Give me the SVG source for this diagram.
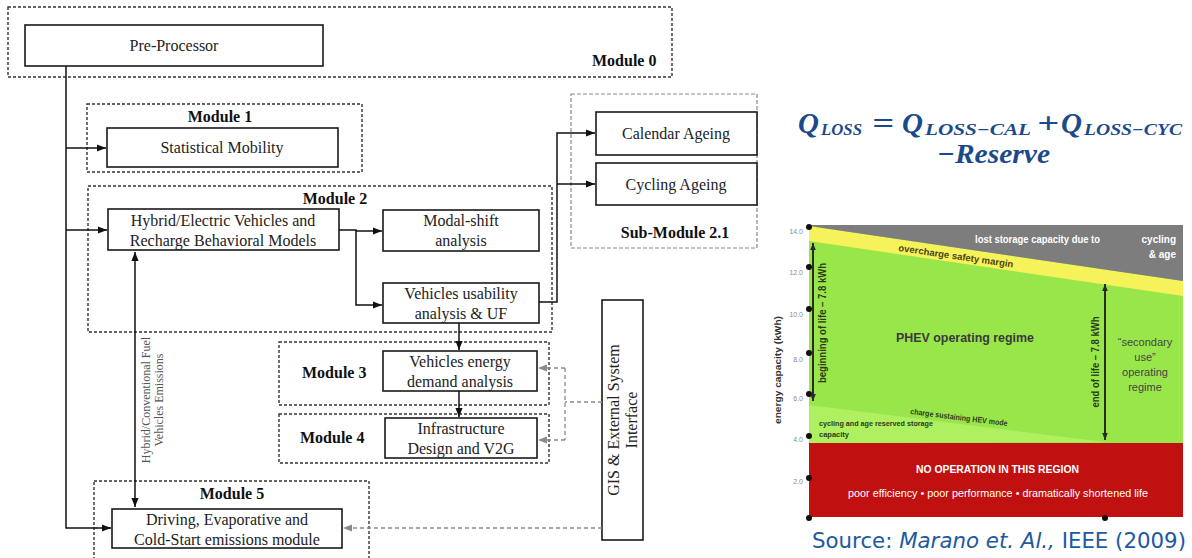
<svg xmlns="http://www.w3.org/2000/svg" width="1192" height="558" viewBox="0 0 1192 558">
<style>
.box{fill:#fff;stroke:#1a1a1a;stroke-width:1.6}
.mod{fill:none;stroke:#333;stroke-width:1.4;stroke-dasharray:3 2}
.sub{fill:none;stroke:#8a8a8a;stroke-width:1.2;stroke-dasharray:4 2}
.t{font-family:"Liberation Serif","Times New Roman",serif;font-size:16px;fill:#222;text-anchor:middle}
.m{font-family:"Liberation Serif","Times New Roman",serif;font-size:16px;font-weight:bold;fill:#111}
.c{fill:none;stroke:#111;stroke-width:1.5}
.g{fill:none;stroke:#8a8a8a;stroke-width:1.3;stroke-dasharray:4 3}
.cs{font-family:"Liberation Sans",Arial,sans-serif}
.ax{font-family:"Liberation Sans",Arial,sans-serif;font-size:7px;fill:#8a8a8a;text-anchor:end}
.f{font-family:"Liberation Serif","Times New Roman",serif;font-weight:bold;font-style:italic;fill:#1b4a8a}
</style>
<defs>
<marker id="ah" viewBox="0 0 10 10" refX="10" refY="5" markerWidth="9" markerHeight="9" markerUnits="userSpaceOnUse" orient="auto-start-reverse"><path d="M0,1 L10,5 L0,9 z" fill="#111"/></marker>
<marker id="ag" viewBox="0 0 10 10" refX="10" refY="5" markerWidth="9" markerHeight="9" markerUnits="userSpaceOnUse" orient="auto-start-reverse"><path d="M0,1 L10,5 L0,9 z" fill="#8a8a8a"/></marker>
<marker id="ac" viewBox="0 0 10 10" refX="10" refY="5" markerWidth="7" markerHeight="7" markerUnits="userSpaceOnUse" orient="auto-start-reverse"><path d="M0,1 L10,5 L0,9 z" fill="#2a2a2a"/></marker>
</defs>
<rect width="1192" height="558" fill="#fff"/>

<!-- module containers -->
<g id="module0">
<rect class="mod" x="8" y="7" width="664" height="70"/>
<text class="m" x="592" y="66">Module 0</text>
</g>
<g id="module1">
<rect class="mod" x="87" y="104" width="275" height="68"/>
<text class="m" x="220" y="122" text-anchor="middle">Module 1</text>
</g>
<g id="module2">
<rect class="mod" x="88" y="186" width="464" height="146"/>
<text class="m" x="335" y="204" text-anchor="middle">Module 2</text>
</g>
<g id="submodule21">
<rect class="sub" x="571" y="94" width="186" height="154"/>
<text class="m" x="675" y="238" text-anchor="middle">Sub-Module 2.1</text>
</g>
<g id="module3">
<rect class="mod" x="279" y="342" width="270" height="63"/>
<text class="m" x="302" y="378">Module 3</text>
</g>
<g id="module4">
<rect class="mod" x="279" y="414" width="270" height="49"/>
<text class="m" x="300" y="443">Module 4</text>
</g>
<g id="module5">
<rect class="mod" x="94" y="481" width="275" height="82"/>
<text class="m" x="232" y="499" text-anchor="middle">Module 5</text>
</g>

<!-- nodes -->
<g id="preprocessor"><rect class="box" x="25" y="25" width="298" height="41"/><text class="t" x="174" y="51">Pre-Processor</text></g>
<g id="statistical-mobility"><rect class="box" x="107" y="128" width="231" height="39"/><text class="t" x="222" y="153">Statistical Mobility</text></g>
<g id="hybrid-models"><rect class="box" x="108" y="209" width="231" height="41"/><text class="t" x="223" y="226">Hybrid/Electric Vehicles and</text><text class="t" x="223" y="246">Recharge Behavioral Models</text></g>
<g id="modal-shift"><rect class="box" x="383" y="210" width="156" height="41"/><text class="t" x="461" y="226">Modal-shift</text><text class="t" x="461" y="246">analysis</text></g>
<g id="usability"><rect class="box" x="383" y="283" width="156" height="40"/><text class="t" x="461" y="299">Vehicles usability</text><text class="t" x="461" y="319">analysis &amp; UF</text></g>
<g id="calendar-ageing"><rect class="box" x="596" y="112" width="161" height="43"/><text class="t" x="676" y="139">Calendar Ageing</text></g>
<g id="cycling-ageing"><rect class="box" x="596" y="163" width="161" height="42"/><text class="t" x="676" y="190">Cycling Ageing</text></g>
<g id="energy-demand"><rect class="box" x="383" y="351" width="154" height="40"/><text class="t" x="460" y="367">Vehicles energy</text><text class="t" x="460" y="387">demand analysis</text></g>
<g id="infrastructure"><rect class="box" x="385" y="418" width="152" height="40"/><text class="t" x="461" y="434">Infrastructure</text><text class="t" x="461" y="454">Design and V2G</text></g>
<g id="driving"><rect class="box" x="112" y="509" width="230" height="39"/><text class="t" x="227" y="525">Driving, Evaporative and</text><text class="t" x="227" y="545">Cold-Start emissions module</text></g>
<g id="gis"><rect class="box" x="602" y="300" width="41" height="240"/>
<text class="t" transform="translate(619,420) rotate(-90)">GIS &amp; External System</text>
<text class="t" transform="translate(637,420) rotate(-90)">Interface</text></g>

<!-- connectors -->
<g id="connectors">
<path class="c" d="M66,66 V528 H111" marker-end="url(#ah)"/>
<path class="c" d="M66,148 H106" marker-end="url(#ah)"/>
<path class="c" d="M66,230 H107" marker-end="url(#ah)"/>
<path class="c" d="M339,230 H356 V305 H382" marker-end="url(#ah)"/>
<path class="c" d="M356,231 H382" marker-end="url(#ah)"/>
<path class="c" d="M539,302 H557 V133 H595" marker-end="url(#ah)"/>
<path class="c" d="M557,184 H595" marker-end="url(#ah)"/>
<path class="c" d="M459,323 V350" marker-end="url(#ah)"/>
<path class="c" d="M459,391 V417" marker-end="url(#ah)"/>
<path class="c" d="M135,252 V507" marker-start="url(#ah)" marker-end="url(#ah)"/>
<path class="g" d="M602,402 H565"/>
<path class="g" d="M565,368 V440"/>
<path class="g" d="M565,368 H538" marker-end="url(#ag)"/>
<path class="g" d="M565,440 H538" marker-end="url(#ag)"/>
<path class="g" d="M602,528 H343" marker-end="url(#ag)"/>
<text font-family="Liberation Serif, Times New Roman, serif" font-size="12" fill="#555" text-anchor="middle" transform="translate(150,400) rotate(-90)">Hybrid/Conventional Fuel</text>
<text font-family="Liberation Serif, Times New Roman, serif" font-size="12" fill="#555" text-anchor="middle" transform="translate(163,400) rotate(-90)">Vehicles Emissions</text>
</g>

<!-- formula -->
<g id="formula">
<text class="f" x="798" y="133" font-size="29">Q</text>
<text class="f" x="821" y="135" font-size="16" textLength="41" lengthAdjust="spacingAndGlyphs">LOSS</text>
<text class="f" x="872" y="133" font-size="29" textLength="22" lengthAdjust="spacingAndGlyphs">=</text>
<text class="f" x="902" y="133" font-size="29">Q</text>
<text class="f" x="925" y="135" font-size="16" textLength="106" lengthAdjust="spacingAndGlyphs">LOSS−CAL</text>
<text class="f" x="1037" y="133" font-size="29" textLength="22" lengthAdjust="spacingAndGlyphs">+</text>
<text class="f" x="1061" y="133" font-size="29">Q</text>
<text class="f" x="1084" y="135" font-size="16" textLength="98" lengthAdjust="spacingAndGlyphs">LOSS−CYC</text>
<text class="f" x="937" y="163" font-size="27" textLength="113" lengthAdjust="spacingAndGlyphs">−Reserve</text>
</g>

<!-- chart -->
<g id="chart">
<rect x="809" y="225" width="374" height="218" fill="#99e64b"/>
<polygon points="809,405 1105,442 809,443" fill="#aef060"/>
<polygon points="809,226 1183,281 1183,296 809,241" fill="#f6f25a"/>
<polygon points="809,225 1183,225 1183,281 809,226" fill="#7d7d7d"/>
<rect x="809" y="443" width="374" height="74" fill="#c01010"/>
<g fill="#111">
<circle cx="809" cy="227" r="3"/><circle cx="809" cy="267" r="3"/><circle cx="809" cy="309" r="3"/><circle cx="809" cy="353" r="3"/><circle cx="809" cy="394" r="3"/><circle cx="809" cy="436" r="3"/><circle cx="809" cy="478" r="3"/><circle cx="809" cy="518" r="3"/><circle cx="1105" cy="518" r="3"/>
</g>
<text class="ax" x="803" y="234">14.0</text>
<text class="ax" x="803" y="275">12.0</text>
<text class="ax" x="803" y="317">10.0</text>
<text class="ax" x="803" y="362">8.0</text>
<text class="ax" x="803" y="401">6.0</text>
<text class="ax" x="803" y="442">4.0</text>
<text class="ax" x="803" y="484">2.0</text>
<text class="cs" font-size="9.5" font-weight="bold" fill="#333" text-anchor="middle" transform="translate(781,370) rotate(-90)" textLength="108" lengthAdjust="spacingAndGlyphs">energy capacity (kWh)</text>
<path d="M813,243 V401" stroke="#2a2a2a" stroke-width="2" fill="none" marker-start="url(#ac)" marker-end="url(#ac)"/>
<path d="M1105,284 V440" stroke="#2a2a2a" stroke-width="2" fill="none" marker-start="url(#ac)" marker-end="url(#ac)"/>
<text class="cs" font-size="10" font-weight="bold" fill="#2d3a1a" text-anchor="middle" transform="translate(826,323) rotate(-90)" textLength="120" lengthAdjust="spacingAndGlyphs">beginning of life – 7.8 kWh</text>
<text class="cs" font-size="10" font-weight="bold" fill="#2d3a1a" text-anchor="middle" transform="translate(1099,362) rotate(-90)" textLength="91" lengthAdjust="spacingAndGlyphs">end of life – 7.8 kWh</text>
<text class="cs" font-size="10" font-weight="bold" fill="#fff" x="975" y="243" textLength="125" lengthAdjust="spacingAndGlyphs">lost storage capacity due to</text>
<text class="cs" font-size="10" font-weight="bold" fill="#fff" x="1176" y="243" text-anchor="end">cycling</text>
<text class="cs" font-size="10" font-weight="bold" fill="#fff" x="1176" y="258" text-anchor="end">&amp; age</text>
<text class="cs" font-size="9.5" font-weight="bold" fill="#4d4410" transform="translate(898,251) rotate(8.2)" textLength="116" lengthAdjust="spacingAndGlyphs">overcharge safety margin</text>
<text class="cs" font-size="12.5" font-weight="bold" fill="#3a3a3a" x="896" y="342" textLength="138" lengthAdjust="spacingAndGlyphs">PHEV operating regime</text>
<g class="cs" font-size="11" fill="#444" text-anchor="middle">
<text x="1145" y="346">“secondary</text>
<text x="1145" y="361">use”</text>
<text x="1145" y="376">operating</text>
<text x="1145" y="391">regime</text>
</g>
<text class="cs" font-size="8" font-weight="bold" fill="#2d3a1a" transform="translate(910,414) rotate(7.1)" textLength="98" lengthAdjust="spacingAndGlyphs">charge sustaining HEV mode</text>
<text class="cs" font-size="7.5" font-weight="bold" fill="#2d3a1a" x="819" y="426" textLength="114" lengthAdjust="spacingAndGlyphs">cycling and age reserved storage</text>
<text class="cs" font-size="7.5" font-weight="bold" fill="#2d3a1a" x="819" y="437">capacity</text>
<text class="cs" font-size="11" font-weight="bold" fill="#fff" x="916" y="473" textLength="163" lengthAdjust="spacingAndGlyphs">NO OPERATION IN THIS REGION</text>
<text class="cs" font-size="10.5" fill="#fff" x="848" y="497" textLength="300" lengthAdjust="spacingAndGlyphs">poor efficiency  •  poor performance  •  dramatically shortened life</text>
</g>

<g id="source">
<text font-family="DejaVu Sans, Verdana, sans-serif" font-size="20.5" fill="#2159a0" x="812" y="548" textLength="374" lengthAdjust="spacingAndGlyphs">Source: <tspan font-style="italic">Marano et. Al.,</tspan> IEEE (2009)</text>
</g>
</svg>
